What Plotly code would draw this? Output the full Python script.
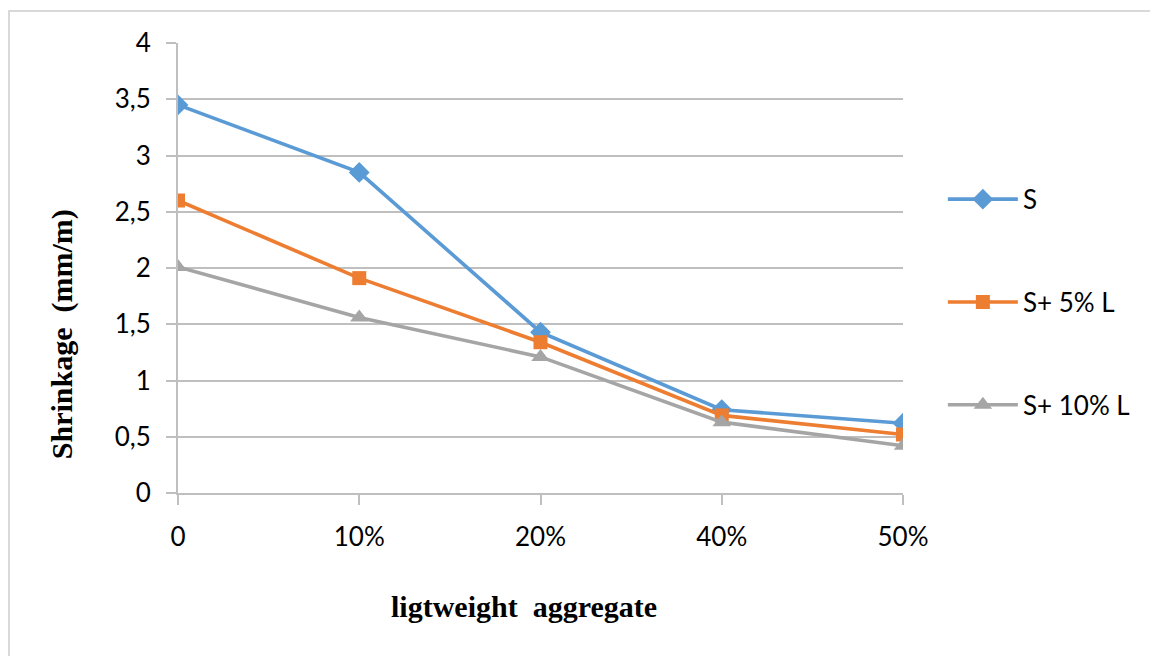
import plotly.graph_objects as go

categories = ["0", "10%", "20%", "40%", "50%"]
s_values = [3.45, 2.85, 1.43, 0.74, 0.62]
s5_values = [2.60, 1.91, 1.34, 0.69, 0.52]
s10_values = [2.01, 1.56, 1.21, 0.63, 0.42]
series_names = ["S", "S+ 5% L", "S+ 10% L"]
y_ticks = [0, 0.5, 1, 1.5, 2, 2.5, 3, 3.5, 4]
y_ticklabels = ["0", "0,5", "1", "1,5", "2", "2,5", "3", "3,5", "4"]

colors = ["#5b9bd5", "#ed7d31", "#a5a5a5"]
symbols = ["diamond", "square", "triangle-up"]
sizes = [16, 14, 16]

fig = go.Figure()
for i, (name, vals) in enumerate(zip(series_names, [s_values, s5_values, s10_values])):
    fig.add_trace(go.Scatter(
        x=categories, y=vals, name=name, mode="lines+markers",
        line=dict(color=colors[i], width=3.6),
        marker=dict(symbol=symbols[i], size=sizes[i], color=colors[i]),
        legendgroup=name,
    ))

tick_font = dict(family="Lato, 'Open Sans', sans-serif", size=26, color="#000000")
title_font = dict(family="'Liberation Serif', 'Times New Roman', serif", size=30, color="#000000")

fig.update_layout(
    width=1150, height=656,
    margin=dict(l=178, r=247, t=43, b=163),
    paper_bgcolor="white", plot_bgcolor="white",
    showlegend=True,
    legend=dict(x=1.055, y=0.705, xanchor="left", yanchor="top",
                font=tick_font, tracegroupgap=66, itemwidth=70,
                bgcolor="rgba(0,0,0,0)"),
    xaxis=dict(type="category", range=[0, 4], showgrid=False,
               showline=True, linecolor="#bfbfbf", linewidth=2,
               ticks="outside", ticklen=10, tickcolor="#bfbfbf", tickwidth=2,
               tickfont=tick_font, ticklabelstandoff=10, zeroline=False),
    yaxis=dict(range=[0, 4], tickvals=y_ticks, ticktext=y_ticklabels,
               showgrid=True, gridcolor="#bfbfbf", gridwidth=2,
               showline=True, linecolor="#bfbfbf", linewidth=2,
               ticks="outside", ticklen=10, tickcolor="#bfbfbf", tickwidth=2,
               tickfont=tick_font, ticklabelstandoff=10, zeroline=False),
    annotations=[
        dict(text="<b>Shrinkage  (mm/m)</b>", xref="paper", yref="paper",
             x=-0.16, y=0.353, textangle=-90, showarrow=False,
             font=title_font, xanchor="center", yanchor="middle"),
        dict(text="<b>ligtweight  aggregate</b>", xref="paper", yref="paper",
             x=0.477, y=-0.253, showarrow=False,
             font=title_font, xanchor="center", yanchor="middle"),
    ],
    shapes=[
        dict(type="rect", xref="paper", yref="paper",
             x0=-0.2331, x1=1.36, y0=-0.40, y1=1.0711,
             line=dict(color="#d9d9d9", width=2), fillcolor="rgba(0,0,0,0)",
             layer="below"),
    ],
)

fig.write_html("out.html")
